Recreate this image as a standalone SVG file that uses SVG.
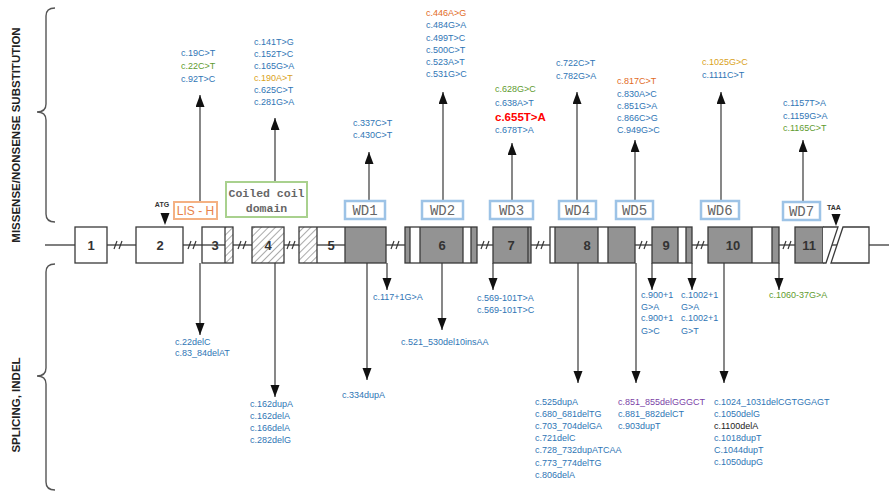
<svg xmlns="http://www.w3.org/2000/svg" width="889" height="495" viewBox="0 0 889 495">
<defs>
<style>
.m{font-family:"Liberation Sans",Arial,sans-serif;font-size:9px}
.bl{fill:#2f75b5}.gr{fill:#5f9b2f}.or{fill:#e26b1f}.go{fill:#d9a21b}.pu{fill:#7b3fa6}.bk{fill:#222}
.ex{stroke:#3a3a3a;stroke-width:1.3}
.num{font-family:"Liberation Sans",Arial,sans-serif;font-size:13px;font-weight:bold;fill:#333;text-anchor:middle}
.wd{fill:#fff;stroke:#9dc3e6;stroke-width:2.5}
.wdt{font-family:"Liberation Mono","Courier New",monospace;font-size:14px;fill:#666;text-anchor:middle}
.ln{stroke:#555;stroke-width:1.4;fill:none}
.ar{stroke:#555;stroke-width:1.4;fill:none;marker-end:url(#ah)}
.brk{stroke:#333;stroke-width:1.2}
.lab{font-family:"Liberation Sans",Arial,sans-serif;font-size:11.5px;font-weight:bold;fill:#222;text-anchor:middle}
.g{fill:#939393}
</style>
<marker id="ah" markerUnits="userSpaceOnUse" markerWidth="12" markerHeight="10" refX="12" refY="4.5" orient="auto">
<path d="M0,0 L12,4.5 L0,9 z" fill="#111"/>
</marker>
<pattern id="hatch" patternUnits="userSpaceOnUse" width="5" height="5" patternTransform="rotate(45)">
<rect width="5" height="5" fill="#fff"/>
<line x1="0" y1="0" x2="0" y2="5" stroke="#555" stroke-width="1"/>
</pattern>
</defs>
<rect width="889" height="495" fill="#fff"/>

<!-- side labels and braces -->
<g id="labels">
<path class="ln" d="M55,8 Q46,8 46,16 L46,104 Q46,112 37,112 Q46,112 46,120 L46,214 Q46,222 55,222"/>
<path class="ln" d="M55,264 Q46,264 46,272 L46,368 Q46,376 37,376 Q46,376 46,384 L46,482 Q46,490 55,490"/>
<text class="lab" transform="translate(20,135) rotate(-90)">MISSENSE/NONSENSE SUBSTITUTION</text>
<text class="lab" transform="translate(20,405) rotate(-90)">SPLICING, INDEL</text>
</g>

<!-- connectors -->
<g id="connectors">
<line class="ln" x1="45" y1="245" x2="889" y2="245"/>
<g id="breaks">
<line class="brk" x1="114" y1="249" x2="117" y2="241"/><line class="brk" x1="119" y1="249" x2="122" y2="241"/>
<line class="brk" x1="188" y1="249" x2="191" y2="241"/><line class="brk" x1="193" y1="249" x2="196" y2="241"/>
<line class="brk" x1="238" y1="249" x2="241" y2="241"/><line class="brk" x1="243" y1="249" x2="246" y2="241"/>
<line class="brk" x1="287" y1="249" x2="290" y2="241"/><line class="brk" x1="292" y1="249" x2="295" y2="241"/>
<line class="brk" x1="391" y1="249" x2="394" y2="241"/><line class="brk" x1="396" y1="249" x2="399" y2="241"/>
<line class="brk" x1="481" y1="249" x2="484" y2="241"/><line class="brk" x1="486" y1="249" x2="489" y2="241"/>
<line class="brk" x1="536" y1="249" x2="539" y2="241"/><line class="brk" x1="541" y1="249" x2="544" y2="241"/>
<line class="brk" x1="639" y1="249" x2="642" y2="241"/><line class="brk" x1="644" y1="249" x2="647" y2="241"/>
<line class="brk" x1="696" y1="249" x2="699" y2="241"/><line class="brk" x1="701" y1="249" x2="704" y2="241"/>
<line class="brk" x1="783" y1="249" x2="786" y2="241"/><line class="brk" x1="788" y1="249" x2="791" y2="241"/>
</g>
<!-- up arrows -->
<line class="ar" x1="200" y1="202" x2="200" y2="95"/>
<line class="ar" x1="275" y1="182" x2="275" y2="118"/>
<line class="ar" x1="369" y1="200" x2="369" y2="152"/>
<line class="ar" x1="443" y1="200" x2="443" y2="92"/>
<line class="ar" x1="512" y1="200" x2="512" y2="143"/>
<line class="ar" x1="577" y1="200" x2="577" y2="92"/>
<line class="ar" x1="635" y1="200" x2="635" y2="140"/>
<line class="ar" x1="721" y1="200" x2="721" y2="92"/>
<line class="ar" x1="803" y1="202" x2="803" y2="140"/>
<!-- down arrows -->
<line class="ar" x1="200" y1="263" x2="200" y2="335"/>
<line class="ar" x1="275" y1="263" x2="275" y2="397"/>
<line class="ar" x1="367" y1="263" x2="367" y2="380"/>
<line class="ar" x1="387" y1="263" x2="387" y2="290"/>
<line class="ar" x1="442" y1="263" x2="442" y2="330"/>
<line class="ar" x1="493" y1="263" x2="493" y2="290"/>
<line class="ar" x1="578" y1="263" x2="578" y2="383"/>
<line class="ar" x1="636" y1="263" x2="636" y2="383"/>
<line class="ar" x1="652" y1="263" x2="652" y2="290"/>
<line class="ar" x1="692" y1="263" x2="692" y2="290"/>
<line class="ar" x1="724" y1="263" x2="724" y2="383"/>
<line class="ar" x1="779" y1="263" x2="779" y2="290"/>
</g>

<!-- exons -->
<g id="exon1"><rect class="ex" x="75" y="227" width="32" height="36" fill="#fff"/><text class="num" x="91" y="250">1</text></g>
<g id="exon2"><rect class="ex" x="136" y="227" width="47" height="36" fill="#fff"/><text class="num" x="160" y="250">2</text></g>
<g id="exon3"><rect x="225" y="227" width="8" height="36" fill="url(#hatch)"/><rect class="ex" x="202" y="227" width="31" height="36" fill="none"/><line class="ex" x1="225" y1="227" x2="225" y2="263"/><text class="num" x="215" y="250">3</text></g>
<g id="exon4"><rect class="ex" x="252" y="227" width="32" height="36" fill="url(#hatch)"/><text class="num" x="268" y="250">4</text></g>
<g id="exon5"><rect x="299" y="227" width="18" height="36" fill="url(#hatch)"/><rect x="345" y="227" width="41" height="36" class="g"/><rect class="ex" x="299" y="227" width="87" height="36" fill="none"/><line class="ex" x1="317" y1="227" x2="317" y2="263"/><line class="ex" x1="345" y1="227" x2="345" y2="263"/><text class="num" x="331" y="250">5</text></g>
<g id="exon6"><rect x="405" y="227" width="72" height="36" class="g"/><rect x="410" y="227" width="10" height="36" fill="#fff"/><rect x="463" y="227" width="8" height="36" fill="#fff"/><rect class="ex" x="405" y="227" width="72" height="36" fill="none"/><line class="ex" x1="410" y1="227" x2="410" y2="263"/><line class="ex" x1="420" y1="227" x2="420" y2="263"/><line class="ex" x1="463" y1="227" x2="463" y2="263"/><line class="ex" x1="471" y1="227" x2="471" y2="263"/><text class="num" x="442" y="250">6</text></g>
<g id="exon7"><rect class="ex g" x="493" y="227" width="38" height="36"/><line class="ex" x1="528" y1="227" x2="528" y2="263"/><text class="num" x="511" y="250">7</text></g>
<g id="exon8"><rect x="550" y="227" width="85" height="36" class="g"/><rect x="550" y="227" width="5" height="36" fill="#fff"/><rect x="598" y="227" width="10" height="36" fill="#fff"/><rect class="ex" x="550" y="227" width="85" height="36" fill="none"/><line class="ex" x1="555" y1="227" x2="555" y2="263"/><line class="ex" x1="598" y1="227" x2="598" y2="263"/><line class="ex" x1="608" y1="227" x2="608" y2="263"/><text class="num" x="587" y="250">8</text></g>
<g id="exon9"><rect x="652" y="227" width="40" height="36" class="g"/><rect x="678" y="227" width="8" height="36" fill="#fff"/><rect class="ex" x="652" y="227" width="40" height="36" fill="none"/><line class="ex" x1="678" y1="227" x2="678" y2="263"/><line class="ex" x1="686" y1="227" x2="686" y2="263"/><text class="num" x="666" y="250">9</text></g>
<g id="exon10"><rect x="708" y="227" width="71" height="36" class="g"/><rect x="752" y="227" width="20" height="36" fill="#fff"/><rect class="ex" x="708" y="227" width="71" height="36" fill="none"/><line class="ex" x1="752" y1="227" x2="752" y2="263"/><line class="ex" x1="772" y1="227" x2="772" y2="263"/><text class="num" x="733" y="250">10</text></g>
<g id="exon11"><rect class="ex g" x="795" y="227" width="28" height="36"/><path class="ex" d="M823,227 L838,227 L826,263 L823,263" fill="#fff"/><path class="ex" d="M843,227 L869,227 L869,263 L831,263 Z" fill="#fff"/><text class="num" x="809" y="250">11</text></g>

<!-- start/stop -->
<g id="atg"><text x="162" y="207" font-family="Liberation Sans,Arial,sans-serif" font-size="7" font-weight="bold" fill="#333" text-anchor="middle">ATG</text><path d="M160.5,213 L169.5,213 L165,225 z" fill="#111"/></g>
<g id="taa"><text x="834" y="210" font-family="Liberation Sans,Arial,sans-serif" font-size="7" font-weight="bold" fill="#333" text-anchor="middle">TAA</text><path d="M831.5,214 L840.5,214 L836,226 z" fill="#111"/></g>

<!-- domains -->
<g id="lish"><rect x="174" y="202" width="43" height="17" fill="#fff" stroke="#f4b183" stroke-width="2"/><text x="195.5" y="215" font-family="Liberation Sans,Arial,sans-serif" font-size="12" fill="#e8824a" text-anchor="middle">LIS - H</text></g>
<g id="coiled"><rect x="226" y="182" width="81" height="35" fill="#fff" stroke="#a9d18e" stroke-width="2"/><text x="266.5" y="197" font-family="Liberation Mono,Courier New,monospace" font-size="11.5" font-weight="bold" fill="#666" text-anchor="middle">Coiled coil</text><text x="266.5" y="212" font-family="Liberation Mono,Courier New,monospace" font-size="11.5" font-weight="bold" fill="#666" text-anchor="middle">domain</text></g>
<g id="wd1"><rect class="wd" x="345" y="201" width="40" height="18"/><text class="wdt" x="365" y="215">WD1</text></g>
<g id="wd2"><rect class="wd" x="422" y="201" width="41" height="18"/><text class="wdt" x="442.5" y="215">WD2</text></g>
<g id="wd3"><rect class="wd" x="490" y="201" width="43" height="18"/><text class="wdt" x="511.5" y="215">WD3</text></g>
<g id="wd4"><rect class="wd" x="559" y="201" width="37" height="18"/><text class="wdt" x="577.5" y="215">WD4</text></g>
<g id="wd5"><rect class="wd" x="616" y="201" width="37" height="18"/><text class="wdt" x="634.5" y="215">WD5</text></g>
<g id="wd6"><rect class="wd" x="701" y="201" width="38" height="18"/><text class="wdt" x="720" y="215">WD6</text></g>
<g id="wd7"><rect class="wd" x="783" y="202" width="37" height="18"/><text class="wdt" x="801.5" y="216">WD7</text></g>

<!-- missense texts -->
<g id="mut-lish" class="m"><text class="bl" x="181" y="56">c.19C&gt;T</text><text class="gr" x="181" y="69">c.22C&gt;T</text><text class="bl" x="181" y="82">c.92T&gt;C</text></g>
<g id="mut-cc" class="m"><text class="bl" x="254" y="45">c.141T&gt;G</text><text class="bl" x="254" y="57">c.152T&gt;C</text><text class="bl" x="254" y="69">c.165G&gt;A</text><text class="go" x="254" y="81">c.190A&gt;T</text><text class="bl" x="254" y="93">c.625C&gt;T</text><text class="bl" x="254" y="105">c.281G&gt;A</text></g>
<g id="mut-wd1" class="m"><text class="bl" x="353" y="126">c.337C&gt;T</text><text class="bl" x="353" y="138">c.430C&gt;T</text></g>
<g id="mut-wd2" class="m"><text class="or" x="426" y="16">c.446A&gt;G</text><text class="bl" x="426" y="28">c.484G&gt;A</text><text class="bl" x="426" y="41">c.499T&gt;C</text><text class="bl" x="426" y="53">c.500C&gt;T</text><text class="bl" x="426" y="65">c.523A&gt;T</text><text class="bl" x="426" y="77">c.531G&gt;C</text></g>
<g id="mut-wd3" class="m"><text class="gr" x="495" y="92">c.628G&gt;C</text><text class="bl" x="495" y="106">c.638A&gt;T</text><text x="495" y="121" fill="#ff0000" font-size="11.5" font-weight="bold">c.655T&gt;A</text><text class="bl" x="495" y="133">c.678T&gt;A</text></g>
<g id="mut-wd4" class="m"><text class="bl" x="556" y="66">c.722C&gt;T</text><text class="bl" x="556" y="79">c.782G&gt;A</text></g>
<g id="mut-wd5" class="m"><text class="or" x="617" y="84">c.817C&gt;T</text><text class="bl" x="617" y="97">c.830A&gt;C</text><text class="bl" x="617" y="109">c.851G&gt;A</text><text class="bl" x="617" y="121">c.866C&gt;G</text><text class="bl" x="617" y="133">C.949G&gt;C</text></g>
<g id="mut-wd6" class="m"><text class="go" x="702" y="65">c.1025G&gt;C</text><text class="bl" x="702" y="78">c.1111C&gt;T</text></g>
<g id="mut-wd7" class="m"><text class="bl" x="783" y="106">c.1157T&gt;A</text><text class="bl" x="783" y="119">c.1159G&gt;A</text><text class="gr" x="783" y="131">c.1165C&gt;T</text></g>

<!-- splicing / indel texts -->
<g id="ind-3" class="m"><text class="bl" x="175" y="345">c.22delC</text><text class="bl" x="175" y="356">c.83_84delAT</text></g>
<g id="ind-4" class="m"><text class="bl" x="250" y="407">c.162dupA</text><text class="bl" x="250" y="419">c.162delA</text><text class="bl" x="250" y="431">c.166delA</text><text class="bl" x="250" y="443">c.282delG</text></g>
<g id="ind-5" class="m"><text class="bl" x="342" y="398">c.334dupA</text></g>
<g id="spl-5" class="m"><text class="bl" x="373" y="300">c.117+1G&gt;A</text></g>
<g id="ind-6" class="m"><text class="bl" x="401" y="345">c.521_530del10insAA</text></g>
<g id="spl-7" class="m"><text class="bl" x="477" y="301">c.569-101T&gt;A</text><text class="bl" x="477" y="313">c.569-101T&gt;C</text></g>
<g id="ind-8" class="m"><text class="bl" x="535" y="405">c.525dupA</text><text class="bl" x="535" y="417">c.680_681delTG</text><text class="bl" x="535" y="429">c.703_704delGA</text><text class="bl" x="535" y="441">c.721delC</text><text class="bl" x="535" y="453">c.728_732dupATCAA</text><text class="bl" x="535" y="466">c.773_774delTG</text><text class="bl" x="535" y="478">c.806delA</text></g>
<g id="ind-8b" class="m"><text class="pu" x="618" y="405">c.851_855delGGGCT</text><text class="bl" x="618" y="417">c.881_882delCT</text><text class="bl" x="618" y="429">c.903dupT</text></g>
<g id="spl-9a" class="m"><text class="bl" x="641" y="298">c.900+1</text><text class="bl" x="641" y="310">G&gt;A</text><text class="bl" x="641" y="321">c.900+1</text><text class="bl" x="641" y="334">G&gt;C</text></g>
<g id="spl-9b" class="m"><text class="bl" x="681" y="298">c.1002+1</text><text class="bl" x="681" y="310">G&gt;A</text><text class="bl" x="681" y="321">c.1002+1</text><text class="bl" x="681" y="334">G&gt;T</text></g>
<g id="ind-10" class="m"><text class="bl" x="714" y="405">c.1024_1031delCGTGGAGT</text><text class="bl" x="714" y="417">c.1050delG</text><text class="bk" x="714" y="429">c.1100delA</text><text class="bl" x="714" y="441">c.1018dupT</text><text class="bl" x="714" y="453">C.1044dupT</text><text class="bl" x="714" y="465">c.1050dupG</text></g>
<g id="spl-10" class="m"><text class="gr" x="769" y="298">c.1060-37G&gt;A</text></g>
</svg>
